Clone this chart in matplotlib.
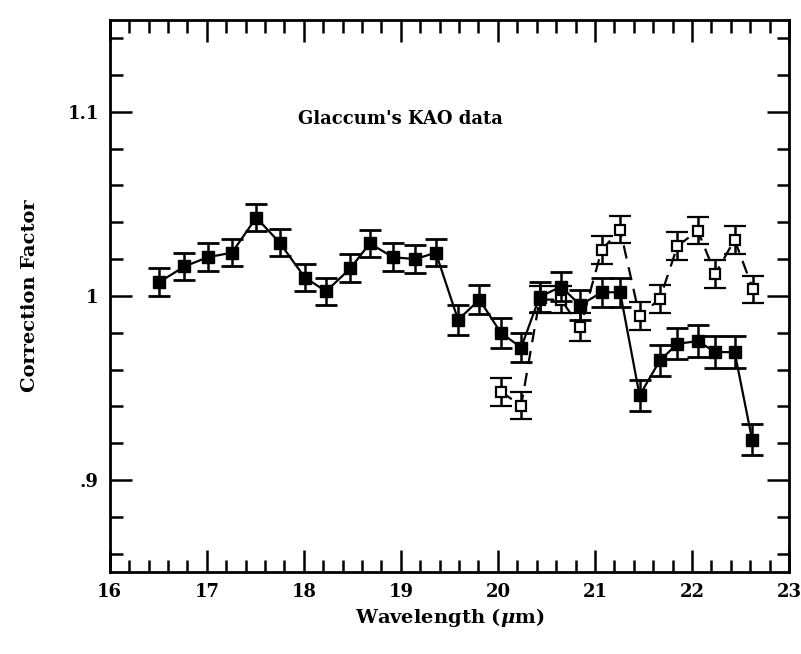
import numpy as np
import matplotlib
matplotlib.use("Agg")
import matplotlib.pyplot as plt
from matplotlib.ticker import MultipleLocator, FuncFormatter

plt.rcParams['font.family'] = ['DejaVu Serif']
plt.rcParams['font.weight'] = 'bold'
plt.rcParams['mathtext.fontset'] = 'dejavuserif'

# filled squares (solid line)
wave_filled = [16.51, 16.77, 17.01, 17.26, 17.51, 17.75, 18.01, 18.23, 18.48, 18.68,
               18.92, 19.15, 19.36, 19.59, 19.81, 20.03, 20.24, 20.43, 20.65, 20.85,
               21.07, 21.26, 21.46, 21.67, 21.85, 22.06, 22.24, 22.44, 22.62]
corr_filled = [1.0075, 1.016, 1.021, 1.0235, 1.0425, 1.029, 1.010, 1.0025, 1.015, 1.0285,
               1.021, 1.020, 1.0235, 0.987, 0.998, 0.980, 0.972, 0.9995, 1.005, 0.995,
               1.002, 1.002, 0.946, 0.965, 0.974, 0.9755, 0.9695, 0.9695, 0.922]
err_filled = [0.0075, 0.0075, 0.0075, 0.0075, 0.0075, 0.0075, 0.0075, 0.0075, 0.0075, 0.0075,
              0.0075, 0.0075, 0.0075, 0.008, 0.008, 0.008, 0.008, 0.008, 0.008, 0.008,
              0.008, 0.008, 0.0085, 0.0085, 0.0085, 0.0085, 0.0085, 0.0085, 0.0085]

# open squares (dashed line)
wave_open = [20.03, 20.24, 20.43, 20.65, 20.85, 21.07, 21.26, 21.46, 21.67, 21.85,
             22.06, 22.24, 22.44, 22.63]
corr_open = [0.948, 0.9405, 0.998, 0.998, 0.983, 1.025, 1.036, 0.989, 0.9985, 1.027,
             1.0355, 1.012, 1.0305, 1.0035]
err_open = [0.0075, 0.0075, 0.0075, 0.0075, 0.0075, 0.0075, 0.0075, 0.0075, 0.0075, 0.0075,
            0.0075, 0.0075, 0.0075, 0.0075]

fig = plt.figure(figsize=(8.01, 6.54), dpi=100)
ax = fig.add_axes([0.137, 0.125, 0.848, 0.845])

ax.errorbar(wave_open, corr_open, yerr=err_open, fmt='s', ls=(0, (6, 4)), color='black',
            mfc='white', mec='black', ms=7, mew=1.6, lw=1.6, elinewidth=1.8,
            capsize=8, capthick=2, zorder=2)
ax.errorbar(wave_filled, corr_filled, yerr=err_filled, fmt='s-', color='black',
            ms=9, lw=1.6, elinewidth=1.8, capsize=8, capthick=2, zorder=3)

ax.set_xlim(16, 23)
ax.set_ylim(0.85, 1.15)
ax.xaxis.set_major_locator(MultipleLocator(1))
ax.xaxis.set_minor_locator(MultipleLocator(0.2))
ax.yaxis.set_major_locator(MultipleLocator(0.1))
ax.yaxis.set_minor_locator(MultipleLocator(0.02))


def fmt_y(v, pos):
    s = ('%.1f' % v).rstrip('0').rstrip('.')
    if s.startswith('0'):
        s = s[1:]
    return s


ax.yaxis.set_major_formatter(FuncFormatter(fmt_y))
ax.tick_params(which='both', direction='in', top=True, right=True, width=1.8,
               labelsize=13)
ax.tick_params(which='major', length=16, pad=8)
ax.tick_params(which='minor', length=9)
for sp in ax.spines.values():
    sp.set_linewidth(2)

ax.text(19.0, 1.096, "Glaccum's KAO data", ha='center', va='center', fontsize=13,
        fontweight='bold')
ax.set_xlabel(r'Wavelength ($\mu$m)', fontsize=14, fontweight='bold', labelpad=3)
ax.set_ylabel('Correction Factor', fontsize=14, fontweight='bold', labelpad=20)

fig.savefig('out.png', dpi=100)
